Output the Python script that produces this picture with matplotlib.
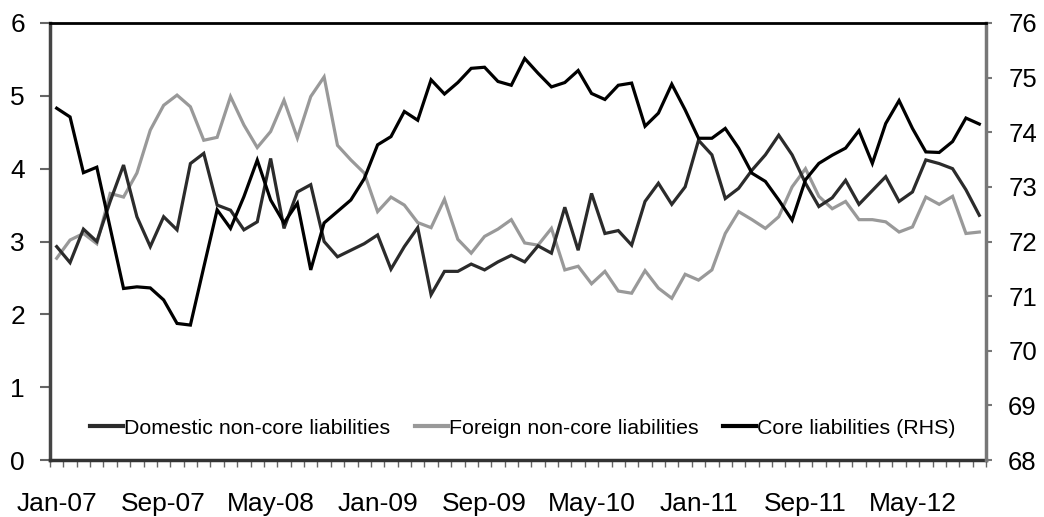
import matplotlib
matplotlib.use('Agg')
import matplotlib.pyplot as plt
import numpy as np

plt.rcParams['font.family'] = ['Liberation Sans', 'DejaVu Sans']

# 月度数据 Jan-07 .. Oct-12 (70 个月)
domestic = [2.93, 2.71, 3.17, 3.00, 3.55, 4.05, 3.34, 2.93, 3.34, 3.16,
            4.07, 4.21, 3.50, 3.43, 3.16, 3.27, 4.14, 3.18, 3.68, 3.78,
            3.00, 2.79, 2.88, 2.97, 3.09, 2.62, 2.93, 3.19, 2.27, 2.59,
            2.59, 2.69, 2.61, 2.72, 2.81, 2.72, 2.94, 2.84, 3.47, 2.88,
            3.66, 3.11, 3.15, 2.95, 3.55, 3.80, 3.51, 3.75, 4.39, 4.19,
            3.59, 3.73, 3.98, 4.19, 4.46, 4.19, 3.80, 3.48, 3.60, 3.84,
            3.51, 3.70, 3.89, 3.55, 3.68, 4.12, 4.07, 4.00, 3.71, 3.36]
foreign = [2.77, 3.02, 3.11, 2.97, 3.66, 3.61, 3.94, 4.53, 4.87, 5.01,
           4.85, 4.39, 4.43, 4.99, 4.60, 4.29, 4.51, 4.94, 4.42, 4.99,
           5.26, 4.32, 4.12, 3.94, 3.41, 3.61, 3.50, 3.26, 3.19, 3.58,
           3.03, 2.84, 3.07, 3.17, 3.30, 2.98, 2.95, 3.18, 2.61, 2.66,
           2.42, 2.59, 2.32, 2.29, 2.60, 2.36, 2.22, 2.55, 2.47, 2.61,
           3.11, 3.41, 3.30, 3.18, 3.34, 3.75, 4.00, 3.62, 3.45, 3.55,
           3.30, 3.30, 3.27, 3.13, 3.20, 3.61, 3.51, 3.62, 3.11, 3.13]
core = [74.44, 74.28, 73.26, 73.36, 72.25, 71.14, 71.17, 71.15, 70.93, 70.50,
        70.47, 71.53, 72.58, 72.24, 72.82, 73.49, 72.76, 72.34, 72.70, 71.48,
        72.34, 72.55, 72.76, 73.15, 73.77, 73.92, 74.38, 74.22, 74.96, 74.70,
        74.91, 75.17, 75.19, 74.93, 74.86, 75.35, 75.08, 74.83, 74.91, 75.13,
        74.71, 74.60, 74.86, 74.90, 74.11, 74.35, 74.88, 74.41, 73.89, 73.89,
        74.07, 73.71, 73.25, 73.10, 72.76, 72.39, 73.13, 73.43, 73.58, 73.71,
        74.03, 73.43, 74.16, 74.58, 74.07, 73.64, 73.63, 73.83, 74.26, 74.15]
tick_labels = ['Jan-07', 'Sep-07', 'May-08', 'Jan-09', 'Sep-09',
               'May-10', 'Jan-11', 'Sep-11', 'May-12']
labels = ['Domestic non-core liabilities', 'Foreign non-core liabilities',
          'Core liabilities (RHS)']

x = np.arange(len(core))

fig = plt.figure(figsize=(10.44, 5.17), dpi=100)
ax = fig.add_axes([50 / 1044, 57 / 517, 936 / 1044, 437 / 517])
ax2 = ax.twinx()

l2, = ax.plot(x, foreign, color='#999999', lw=2.3, solid_joinstyle='miter')
l1, = ax.plot(x, domestic, color='#2b2b2b', lw=2.3, solid_joinstyle='miter')
l3, = ax2.plot(x, core, color='black', lw=2.3, solid_joinstyle='miter')

ax.set_xlim(-0.5, len(x) - 0.5)
ax.set_ylim(0, 6)
ax2.set_ylim(68, 76)
ax.set_yticks(range(0, 7))
ax2.set_yticks(range(68, 77))

# x 轴: 标签在类别中心, 刻度线在类别之间
ax.set_xticks(np.arange(0, len(x), 8))
ax.set_xticklabels(tick_labels)
ax.set_xticks(np.arange(-0.5, len(x), 1), minor=True)
ax.tick_params(axis='x', which='major', length=0, pad=23, labelsize=19)
ax.tick_params(axis='x', which='minor', length=5, width=1, color='#666666', direction='out')
ax.tick_params(axis='y', length=7, width=1.5, color='#666666', pad=11, labelsize=19)
ax2.tick_params(axis='y', length=4, width=1.5, color='#777777', pad=12, labelsize=18.5)

for s in ['top', 'right']:
    ax.spines[s].set_visible(False)
for s in ['left', 'bottom']:
    ax2.spines[s].set_visible(False)
ax.spines['left'].set_color('#444444')
ax.spines['left'].set_linewidth(2.5)
ax.spines['bottom'].set_color('#333333')
ax.spines['bottom'].set_linewidth(2.5)
ax2.spines['top'].set_color('black')
ax2.spines['top'].set_linewidth(2)
ax2.spines['right'].set_color('#777777')
ax2.spines['right'].set_linewidth(2.5)

leg = ax2.legend([l1, l2, l3], labels, loc='center', bbox_to_anchor=(0.505, 0.073),
                 ncol=3, frameon=False, fontsize=15.4, handlelength=1.55,
                 handletextpad=0.05, columnspacing=1.15, borderaxespad=0)
for h in leg.get_lines():
    h.set_linewidth(3)

fig.savefig('out.png', dpi=100)
